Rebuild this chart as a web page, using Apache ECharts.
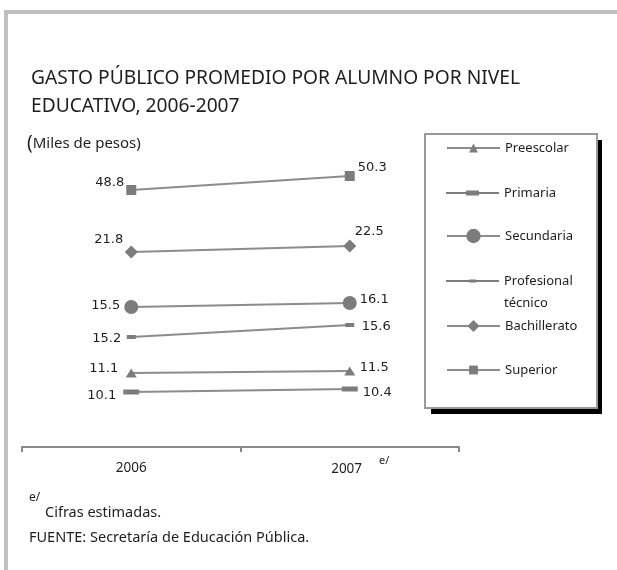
<!DOCTYPE html>
<html><head><meta charset="utf-8">
<script src="https://cdn.jsdelivr.net/npm/echarts@6/dist/echarts.min.js"></script>
<style>html,body{margin:0;padding:0;background:#fff}#c{width:617px;height:570px}</style>
</head><body><div id="c"></div>
<script>
// ---- data ----
const categories = ['2006', '2007'];
const estimatedMark = ['', 'e/'];
const seriesNames = ['Preescolar', 'Primaria', 'Secundaria', 'Profesional técnico', 'Bachillerato', 'Superior'];
const preescolar = [11.1, 11.5];
const primaria = [10.1, 10.4];
const secundaria = [15.5, 16.1];
const profesionalTecnico = [15.2, 15.6];
const bachillerato = [21.8, 22.5];
const superior = [48.8, 50.3];
const seriesValues = [preescolar, primaria, secundaria, profesionalTecnico, bachillerato, superior];

// ---- look ----
const FONT = '"Noto Sans", sans-serif';
const LBLFONT = '"DejaVu Sans", sans-serif';
const LINE = '#8c8c8c', MARK = '#7c7c7c', TXT = '#1e1e1e';

const looks = [
  {symbol:'triangle', size:[11,9], range:[-3.7,56.3], left:[-7.5,-4], right:[4.5,-3], legendY:148, itemHeight:11},
  {symbol:'rect', size:[16,5], range:[4.6,34.6], left:[-7,4], right:[5,4], legendY:193, itemHeight:5, icon:'path://M0,1.5H53V3.5H0Z M20,0H33V5H20Z'},
  {symbol:'circle', size:14, range:[-5.5,39.5], left:[-4,-1], right:[3,-3], legendY:237, itemHeight:18},
  {symbol:'rect', size:[9,4], range:[11.533,21.533], left:[-5.5,2], right:[7.5,2], legendY:281, itemHeight:3, icon:'path://M0,0.5H53V2.5H0Z M23,0H30V3H23Z', twoLines:true},
  {symbol:'diamond', size:13, range:[-0.95,34.05], left:[-1.5,-12], right:[-1.5,-14], legendY:326, itemHeight:15},
  {symbol:'rect', size:10, range:[21.264,53.407], left:[-2,-7], right:[3,-8], legendY:370, itemHeight:11}
];

const legends = seriesNames.map((name, i) => {
  const lk = looks[i];
  const item = {name};
  if (lk.icon) item.icon = lk.icon;
  const ts = {fontFamily: FONT, fontSize: 13, color: TXT, lineHeight: lk.twoLines ? 22 : 16};
  let top = lk.legendY - Math.max(lk.itemHeight, 16) / 2;
  if (lk.twoLines) top = lk.legendY - 33;
  return {
    data: [item], orient: 'vertical', left: 446, top: top, padding: 0, itemGap: 0,
    itemWidth: 53, itemHeight: lk.itemHeight, selectedMode: false,
    formatter: n => lk.twoLines ? '\n' + n.replace(' ', '\n') : n,
    textStyle: ts, z: 10
  };
});

const option = {
  animation: false,
  backgroundColor: '#fff',
  title: [
    {text: 'GASTO PÚBLICO PROMEDIO POR ALUMNO POR NIVEL\nEDUCATIVO, 2006-2007', left: 31, top: 65, padding: 0,
     textStyle: {fontFamily: FONT, fontSize: 19.2, fontWeight: 'normal', color: TXT, lineHeight: 28}},
    {text: '{p|(}Miles de pesos)', left: 27, top: 134, padding: 0,
     textStyle: {fontFamily: FONT, fontSize: 15, fontWeight: 'normal', color: TXT, lineHeight: 20,
       rich: {p: {fontFamily: FONT, fontSize: 19, color: TXT, lineHeight: 20}}}}
  ],
  legend: legends,
  grid: {left: 22, right: 158, top: 147, bottom: 123, containLabel: false},
  xAxis: {
    type: 'category', data: categories, boundaryGap: true,
    axisLine: {onZero: false, lineStyle: {color: '#888', width: 2}},
    axisTick: {show: true, length: 5, lineStyle: {color: '#888', width: 2}},
    axisLabel: {
      margin: 14, color: TXT, fontFamily: FONT, fontSize: 13.5,
      formatter: (v, i) => estimatedMark[i] ? '{pad|}' + v + '{s|' + estimatedMark[i] + '}' : v,
      rich: {
        pad: {width: 21},
        s: {fontFamily: FONT, fontSize: 11, color: TXT, padding: [0, 0, 16, 17], lineHeight: 16}
      }
    },
    splitLine: {show: false}
  },
  yAxis: looks.map(lk => ({type: 'value', show: false, min: lk.range[0], max: lk.range[1], splitLine: {show: false}})),
  series: seriesNames.map((name, i) => {
    const lk = looks[i];
    return {
      name, type: 'line', yAxisIndex: i, z: 3,
      symbol: lk.symbol, symbolSize: lk.size, showAllSymbol: true,
      lineStyle: {color: LINE, width: 2},
      itemStyle: {color: MARK},
      label: {show: true, fontFamily: LBLFONT, fontSize: 13, color: TXT, distance: 0},
      emphasis: {disabled: true},
      data: seriesValues[i].map((v, j) => ({
        value: v,
        label: {position: j === 0 ? 'left' : 'right', offset: j === 0 ? lk.left : lk.right}
      }))
    };
  }),
  graphic: [
    {type: 'rect', z: 0, shape: {x: 4, y: 10, width: 613, height: 4}, style: {fill: '#c0c0c0'}},
    {type: 'rect', z: 0, shape: {x: 4, y: 10, width: 4, height: 560}, style: {fill: '#c0c0c0'}},
    {type: 'rect', z: 0, shape: {x: 431, y: 140, width: 171, height: 274}, style: {fill: '#000'}},
    {type: 'rect', z: 1, shape: {x: 425, y: 134, width: 172, height: 274}, style: {fill: '#fff', stroke: '#9a9a9a', lineWidth: 2}},
    {type: 'text', z: 2, left: 29, top: 492, style: {text: 'e/', font: '12px "Noto Sans"', fill: TXT}},
    {type: 'text', z: 2, left: 45, top: 505, style: {text: 'Cifras estimadas.', font: '14.5px "Noto Sans"', fill: TXT}},
    {type: 'text', z: 2, left: 29, top: 530, style: {text: 'FUENTE: Secretaría de Educación Pública.', font: '14.5px "Noto Sans"', fill: TXT}}
  ]
};

const chart = echarts.init(document.getElementById('c'), null, {renderer: 'canvas'});
chart.setOption(option);
</script>
</body></html>
